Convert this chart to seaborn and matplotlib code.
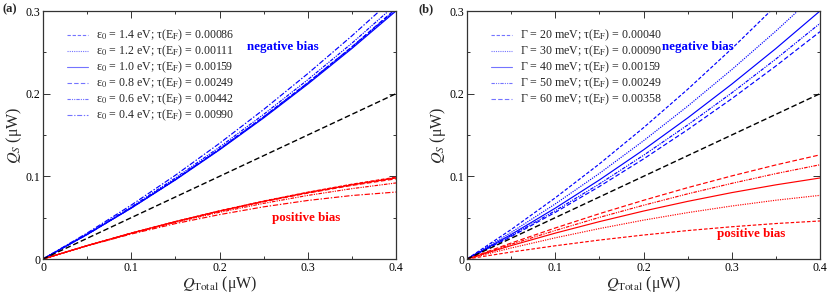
import matplotlib
matplotlib.use("Agg")
import matplotlib.pyplot as plt
import numpy as np
import pandas as pd
import seaborn as sns
from matplotlib.lines import Line2D

sns.set_theme(style="ticks")
plt.rcParams["font.family"] = ["Liberation Serif", "DejaVu Serif"]
plt.rcParams["mathtext.fontset"] = "stix"

# ---- data ----
q_total = [0, 0.05, 0.1, 0.15, 0.2, 0.25, 0.3, 0.35, 0.4]
reference = [0, 0.025, 0.05, 0.075, 0.1, 0.125, 0.15, 0.175, 0.2]

# panel (a): level position eps_0
eps_labels = ["1.4", "1.2", "1.0", "0.8", "0.6", "0.4"]
eps_tau = ["0.00086", "0.00111", "0.00159", "0.00249", "0.00442", "0.00990"]
neg_a = [
    [0, 0.0298, 0.0619, 0.0962, 0.1329, 0.1718, 0.2130, 0.2564, 0.302],
    [0, 0.0297, 0.0617, 0.0959, 0.1325, 0.1713, 0.2123, 0.2556, 0.301],
    [0, 0.0296, 0.0615, 0.0956, 0.1320, 0.1706, 0.2115, 0.2546, 0.300],
    [0, 0.0298, 0.0620, 0.0964, 0.1330, 0.1720, 0.2132, 0.2566, 0.303],
    [0, 0.0303, 0.0630, 0.0980, 0.1353, 0.1749, 0.2168, 0.2610, 0.308],
    [0, 0.0314, 0.0652, 0.1013, 0.1399, 0.1808, 0.2242, 0.2699, 0.318],
]
pos_a = [
    [0, 0.0162, 0.0313, 0.0453, 0.0583, 0.0701, 0.0808, 0.0905, 0.099],
    [0, 0.0162, 0.0313, 0.0453, 0.0581, 0.0699, 0.0805, 0.0901, 0.0985],
    [0, 0.0162, 0.0313, 0.0452, 0.0580, 0.0697, 0.0803, 0.0897, 0.098],
    [0, 0.0162, 0.0312, 0.0450, 0.0578, 0.0693, 0.0797, 0.0890, 0.097],
    [0, 0.0161, 0.0309, 0.0443, 0.0565, 0.0673, 0.0769, 0.0851, 0.092],
    [0, 0.0159, 0.0302, 0.0428, 0.0537, 0.0631, 0.0708, 0.0768, 0.081],
]

# panel (b): broadening Gamma
gam_labels = ["20", "30", "40", "50", "60"]
gam_tau = ["0.00040", "0.00090", "0.00159", "0.00249", "0.00358"]
neg_b = [
    [0, 0.0356, 0.0740, 0.1150, 0.1588, 0.2052, 0.2544, 0.3063, 0.3609],
    [0, 0.0321, 0.0666, 0.1035, 0.1430, 0.1848, 0.2291, 0.2757, 0.3249],
    [0, 0.0296, 0.0615, 0.0956, 0.1320, 0.1706, 0.2115, 0.2546, 0.300],
    [0, 0.0281, 0.0584, 0.0908, 0.1254, 0.1621, 0.2009, 0.2419, 0.285],
    [0, 0.0271, 0.0564, 0.0877, 0.1210, 0.1564, 0.1939, 0.2335, 0.275],
]
pos_b = [
    [0, 0.0084, 0.0160, 0.0229, 0.0290, 0.0344, 0.0390, 0.0429, 0.046],
    [0, 0.0133, 0.0256, 0.0368, 0.0470, 0.0561, 0.0641, 0.0711, 0.077],
    [0, 0.0162, 0.0313, 0.0452, 0.0580, 0.0697, 0.0803, 0.0897, 0.098],
    [0, 0.0178, 0.0345, 0.0503, 0.0650, 0.0788, 0.0915, 0.1033, 0.114],
    [0, 0.0193, 0.0375, 0.0548, 0.0710, 0.0863, 0.1005, 0.1138, 0.126],
]

# line styles (dash patterns)
DASHED = (0, (3.0, 1.6))
DOTTED = (0, (1.0, 1.0))
SOLID = "-"
LONGDASH = (0, (4.0, 2.0))
DASHDOTDOT = (0, (3.0, 1.0, 1.0, 1.0, 1.0, 1.0))
DASHDOT = (0, (4.5, 1.5, 1.2, 1.5))

styles_a = [DASHED, DOTTED, SOLID, LONGDASH, DASHDOTDOT, DASHDOT]
styles_b = [DASHED, DOTTED, SOLID, DASHDOTDOT, LONGDASH]


def draw_panel(ax, neg, pos, styles, labels):
    for vals, ls in zip(neg, styles):
        sns.lineplot(x=q_total, y=vals, ax=ax, color="#0000ff", linewidth=0.85,
                     linestyle=ls, legend=False)
    for vals, ls in zip(pos, styles):
        sns.lineplot(x=q_total, y=vals, ax=ax, color="#ff0000", linewidth=0.85,
                     linestyle=ls, legend=False)
    sns.lineplot(x=q_total, y=reference, ax=ax, color="black", linewidth=1.0,
                 linestyle=(0, (4.0, 2.0)), legend=False)

    ax.set_xlim(0, 0.4)
    ax.set_ylim(0, 0.3)
    ax.set_xticks([0, 0.1, 0.2, 0.3, 0.4])
    ax.set_xticklabels(["0", "0.1", "0.2", "0.3", "0.4"])
    ax.set_yticks([0, 0.1, 0.2, 0.3])
    ax.set_yticklabels(["0", "0.1", "0.2", "0.3"])
    ax.set_xticks(np.arange(0.05, 0.4, 0.1), minor=True)
    ax.set_yticks([0.05, 0.15, 0.25], minor=True)
    ax.tick_params(which="both", direction="in", top=True, right=True,
                   labelsize=8.5, width=0.7, colors="#333333", labelcolor="black", pad=2)
    ax.tick_params(which="major", length=5)
    ax.tick_params(which="minor", length=2.5)
    for sp in ax.spines.values():
        sp.set_linewidth(0.9)
        sp.set_color("#333333")
    ax.set_xlabel(r"$Q_{\mathrm{Total}}$ (μW)", fontsize=11.5, labelpad=0)
    ax.set_ylabel(r"$Q_S$ (μW)", fontsize=11.5, labelpad=1)

    # legend handles are thin and light in the original
    handles = [Line2D([], [], color="#7474ff", linewidth=0.8, linestyle=ls)
               for ls in styles]
    ax.legend(handles=handles, labels=labels, loc="upper left",
              bbox_to_anchor=(0.045, 0.965), frameon=False, fontsize=8.6,
              handlelength=1.7, handletextpad=0.7, labelspacing=0.05,
              borderpad=0.2)


fig = plt.figure(figsize=(8.3, 2.95), dpi=100)
ax_a = fig.add_axes([43 / 830, 36 / 295, 353 / 830, 248 / 295])
ax_b = fig.add_axes([467 / 830, 36 / 295, 353 / 830, 248 / 295])

lab_a = [r"ε$_0$ = %s eV; τ(E$_\mathrm{F}$) = %s" % (e, t) for e, t in zip(eps_labels, eps_tau)]
lab_b = [r"Γ = %s meV; τ(E$_\mathrm{F}$) = %s" % (g, t) for g, t in zip(gam_labels, gam_tau)]

draw_panel(ax_a, neg_a, pos_a, styles_a, lab_a)
draw_panel(ax_b, neg_b, pos_b, styles_b, lab_b)

ax_a.text(0.231, 0.256, "negative bias", color="#0000ff", fontweight="bold",
          fontsize=9.4, va="center")
ax_a.text(0.259, 0.0496, "positive bias", color="#ff0000", fontweight="bold",
          fontsize=9.4, va="center")
ax_b.text(0.221, 0.256, "negative bias", color="#0000ff", fontweight="bold",
          fontsize=9.4, va="center")
ax_b.text(0.283, 0.030, "positive bias", color="#ff0000", fontweight="bold",
          fontsize=9.4, va="center")

fig.text(2 / 830, 1 - 9 / 295, "(a)", fontweight="bold", fontsize=9, va="center")
fig.text(418 / 830, 1 - 9 / 295, "(b)", fontweight="bold", fontsize=9, va="center")

fig.savefig("out.png", dpi=100)
